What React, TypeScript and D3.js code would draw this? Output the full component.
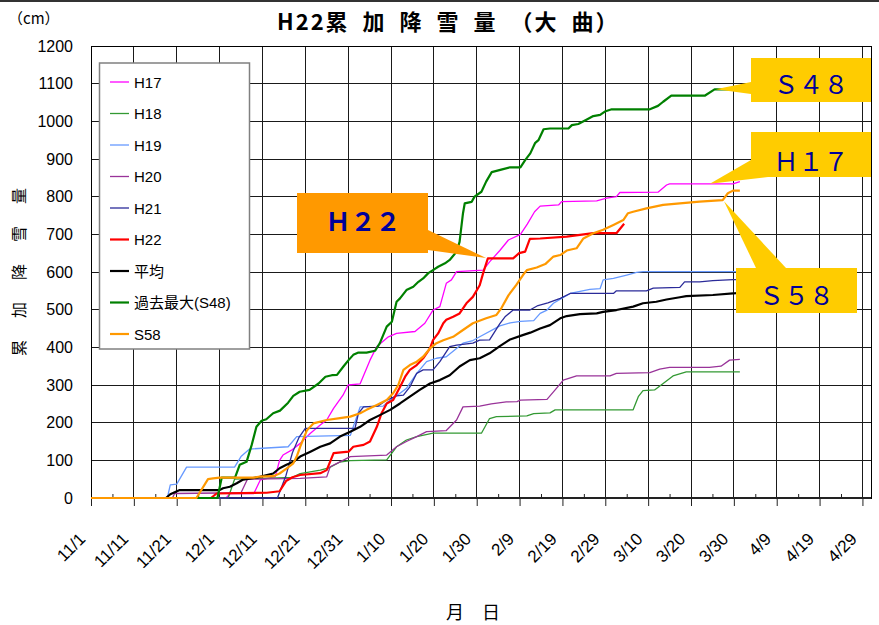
import React, { useRef, useEffect } from "react";
import * as d3 from "d3";

const width = 879;
const height = 625;

// day 0 = 11/1 (calendar with 2/29), values in cm
const tickDays = [0, 10, 20, 30, 40, 50, 60, 70, 80, 90, 100, 110, 120, 130, 140, 150, 160, 170, 180];
const tickLabels = ["11/1", "11/11", "11/21", "12/1", "12/11", "12/21", "12/31", "1/10", "1/20", "1/30", "2/9", "2/19", "2/29", "3/10", "3/20", "3/30", "4/9", "4/19", "4/29"];
const minorDays = [5, 15, 25, 35, 45, 55, 65, 75, 85, 95, 105, 115, 125, 135, 145, 155, 165, 175];
const yTicks = [0, 100, 200, 300, 400, 500, 600, 700, 800, 900, 1000, 1100, 1200];

const h17 = [[0,0],[31.5,0],[32.5,12],[38,12],[39.5,48],[43,57],[44,100],[44.8,114],[46.8,127],[48.8,145],[51.2,172],[53.5,194],[55,207],[56.6,238],[58.8,273],[60,300],[62.8,303],[65.1,366],[66.7,402],[69.4,428],[71.3,437],[75.6,442],[77.9,464],[79.8,499],[81.4,508],[82.9,570],[84.1,579],[85.3,601],[91.5,605],[93,627],[95.4,657],[97.4,685],[100.2,700],[101.8,727],[103.5,760],[104.8,775],[109.1,778],[109.8,787],[118,789],[120.3,796],[122.6,800],[123.4,811],[132.3,812],[134.3,831],[135,834],[149.8,834],[151.4,840]];
const h18 = [[0,0],[32,0],[33.5,50],[47,55],[48.8,65],[53.5,74],[55.5,80],[58,95],[60.5,99],[69,101],[71.3,136],[73.6,154],[76,163],[79.8,172],[91.1,172],[93,211],[94.6,216],[101.7,218],[103.3,224],[107.1,226],[108.3,234],[126.5,234],[127.7,269],[128.8,285],[131.5,287],[133.5,304],[135.8,324],[138.9,335],[151.4,335]];
const h19 = [[0,0],[17.8,0],[18.5,35],[20,37],[22.3,82],[33.5,82],[35,110],[37,130],[46,136],[48,163],[60.5,166],[62.8,242],[68.2,244],[69.8,260],[72.1,278],[73.6,291],[76,331],[78.3,362],[80.6,371],[82.9,375],[86.8,411],[89.1,418],[90.7,428],[95.4,457],[97.8,465],[100.2,469],[103.3,471],[104.8,490],[106.4,499],[107.9,517],[109.8,530],[111.8,543],[116.4,554],[118.8,556],[119.5,579],[121.9,583],[125,592],[127.3,599],[128.8,601],[151.4,601]];
const h20 = [[0,0],[19,0],[19.5,12],[35,14],[36.5,50],[48.8,52],[55,56],[55.8,83],[57.4,92],[60.5,110],[69,114],[71.3,136],[73.6,150],[76,163],[78.3,176],[82.9,179],[85.3,207],[86.8,242],[90.7,244],[93.4,250],[96.9,255],[99.4,256],[100.2,260],[106.4,262],[108.3,287],[110.2,313],[113.3,324],[121.1,324],[122.6,331],[130.4,333],[132.7,342],[135,347],[144.3,347],[147,350],[149,366],[151.4,368]];
const h21 = [[0,0],[43.5,0],[45.5,60],[47,120],[48.5,160],[50,185],[61.6,185],[62.4,225],[63.6,242],[67,244],[69,260],[71.3,271],[72.9,273],[74.4,295],[76,331],[77.5,340],[79.8,340],[81.4,362],[83.7,402],[85.3,406],[89.1,411],[90.7,419],[93,420],[95.4,463],[96.6,481],[98.5,499],[102.4,499],[104.3,511],[106.6,518],[109.5,530],[111.8,543],[121.9,543],[122.6,550],[129.6,550],[131.2,557],[137.4,559],[138.5,574],[142,574],[145.1,577],[149.8,580],[151.4,580]];
const h22 = [[0,0],[28,0],[29.3,12],[41,14],[44,18],[45.5,45],[47,55],[48.8,61],[53.5,66],[55,74],[56.6,119],[60.1,123],[61.2,136],[63.6,141],[65.1,150],[66.7,189],[67.8,225],[69,251],[70.5,260],[72.1,295],[73.3,322],[74.4,340],[76,353],[77.5,371],[79.1,397],[79.8,419],[81,437],[82.2,464],[82.9,473],[84.5,481],[86,490],[87.6,517],[89.1,534],[90.7,565],[91.5,597],[92.6,636],[98.5,636],[99.9,650],[101.3,654],[102.4,688],[104.8,689],[111,694],[117.2,703],[122.6,703],[124.4,728]];
const avg = [[0,0],[17.5,0],[18.5,10],[20.7,21],[30,21],[30.8,26],[32.4,30],[34,39],[35.5,49],[39.4,56],[42.5,65],[44,79],[45.6,88],[47.2,96],[48.8,110],[51.2,123],[53.5,136],[55.8,145],[58.1,163],[60.5,176],[62.8,189],[65.1,207],[67.4,220],[69.8,234],[72.1,251],[74.4,269],[76.7,287],[79.1,304],[81.4,313],[83.7,326],[86,349],[88.4,366],[90.7,371],[93,384],[95.4,403],[97.8,421],[100.9,433],[102.5,439],[104.8,450],[107.1,459],[109.5,477],[111,483],[114.1,488],[118,490],[119.5,494],[122.6,499],[126.5,508],[128.8,517],[131.9,521],[134.3,527],[137.4,533],[138.9,536],[145.1,539],[149.8,543],[150.5,544]];
const s48 = [[0,0],[29.5,0],[30.5,54],[33.6,54],[34.7,88],[36.3,96],[37.5,141],[38.6,189],[39.8,205],[40.9,209],[42.5,225],[44.1,232],[46,253],[47.2,271],[48.7,282],[51,287],[53.1,304],[54.7,322],[56.2,326],[57.4,327],[58.9,349],[60.1,366],[61.2,380],[62.4,386],[64.3,386],[66.3,391],[67.4,411],[69,455],[70.2,468],[71.3,521],[72.1,530],[73.6,552],[75.2,561],[76.4,574],[77.5,583],[78.7,597],[79.8,605],[81,614],[82.6,623],[83.7,632],[85.3,654],[86,680],[86.8,756],[87.2,782],[88.8,786],[89.5,800],[91.1,813],[92.2,840],[93.5,865],[95.5,871],[97.8,878],[100.2,878],[101.3,897],[102.5,915],[103.6,942],[104.4,950],[105.6,979],[107.1,981],[111.4,981],[112.2,990],[113.7,993],[115.7,1005],[117.2,1014],[118.8,1017],[119.9,1026],[121.5,1032],[130.4,1032],[132.3,1041],[133.5,1052],[135.4,1068],[143.2,1068],[145.5,1085],[151,1085]];
const s58 = [[0,0],[24.6,0],[27.3,50],[28.5,52],[30,54],[38,54],[39.4,57],[42.5,58],[44,65],[45.6,78],[47.2,92],[48,110],[48.8,136],[50.4,180],[51.9,198],[55,207],[58.1,212],[60.5,216],[62.8,225],[64.3,234],[66.7,247],[69,260],[70.5,278],[71.7,300],[72.9,340],[74.4,353],[76,362],[77.5,375],[79.1,397],[80.6,411],[82.2,419],[84.5,428],[86.8,446],[89.1,464],[92.2,477],[94.6,486],[95.8,505],[97.4,538],[99.2,565],[100.8,592],[101.7,605],[104,612],[106,621],[107.9,641],[109.5,645],[111,657],[113.3,663],[114.9,689],[117.2,703],[119.5,712],[121.9,725],[124.2,738],[125.3,756],[126.5,760],[129.6,769],[133.5,778],[137.4,782],[142,787],[147.4,791],[148.6,809],[149.8,816],[151.4,816]];

const seriesNames = ["H17", "H18", "H19", "H20", "H21", "H22", "平均", "過去最大(S48)", "S58"];
const seriesData = [h17, h18, h19, h20, h21, h22, avg, s48, s58];
const colors = ["#ff00ff", "#339933", "#6699ff", "#993399", "#2b2b99", "#ff0000", "#000000", "#008000", "#ff9900"];
const widths = [1.3, 1.3, 1.3, 1.3, 1.3, 2.2, 2.2, 2.2, 2.2];

const jp = "'Noto Sans CJK JP', sans-serif";
const num = "'Liberation Sans', Arial, 'Noto Sans CJK JP', sans-serif";

const App = () => {
  const ref = useRef<SVGSVGElement>(null);

  useEffect(() => {
    const svg = d3.select(ref.current);
    svg.selectAll("*").remove();

    const x = d3.scaleLinear().domain([0, 182]).range([91, 871]);
    const y = d3.scaleLinear().domain([0, 1200]).range([498, 46]);

    svg.append("rect").attr("width", width).attr("height", height).attr("fill", "#fff");
    svg.append("line").attr("x1", 0).attr("x2", width).attr("y1", 1).attr("y2", 1)
      .attr("stroke", "#333").attr("stroke-width", 2);

    // grid
    const grid = svg.append("g").attr("stroke", "#1a1a1a").attr("shape-rendering", "crispEdges");
    grid.selectAll("line.v").data(tickDays.slice(1)).join("line").attr("class", "v")
      .attr("x1", (d) => x(d)).attr("x2", (d) => x(d)).attr("y1", y(1200)).attr("y2", y(0));
    grid.selectAll("line.h").data(yTicks.slice(1)).join("line").attr("class", "h")
      .attr("x1", x(0)).attr("x2", x(182)).attr("y1", (d) => y(d)).attr("y2", (d) => y(d));

    // frame
    svg.append("rect").attr("x", x(0)).attr("y", y(1200))
      .attr("width", x(182) - x(0)).attr("height", y(0) - y(1200))
      .attr("fill", "none").attr("stroke", "#000").attr("shape-rendering", "crispEdges");
    svg.append("line").attr("x1", x(0)).attr("x2", x(182)).attr("y1", y(0)).attr("y2", y(0))
      .attr("stroke", "#222").attr("stroke-width", 2);

    // y axis labels
    const yAxis = svg.append("g").attr("transform", `translate(${x(0)},0)`)
      .call(d3.axisLeft(y).tickValues(yTicks).tickSize(0).tickPadding(18).tickFormat(d3.format("d")));
    yAxis.select(".domain").remove();
    yAxis.selectAll("text").attr("font-family", num).attr("font-size", 16).attr("fill", "#000");

    // x axis
    const xAxis = svg.append("g").attr("transform", `translate(0,${y(0)})`)
      .call(d3.axisBottom(x).tickValues(tickDays).tickSize(8)
        .tickFormat((d, i) => tickLabels[i]));
    xAxis.select(".domain").remove();
    xAxis.selectAll("line").attr("stroke", "#222");
    xAxis.selectAll("text")
      .attr("font-family", num).attr("font-size", 17).attr("fill", "#000")
      .attr("y", 0).attr("dy", 0).attr("text-anchor", "end")
      .attr("transform", "translate(-5,42) rotate(-45)");
    const minor = svg.append("g").attr("transform", `translate(0,${y(0)})`)
      .call(d3.axisBottom(x).tickValues(minorDays).tickSize(-4).tickFormat(() => ""));
    minor.select(".domain").remove();
    minor.selectAll("line").attr("stroke", "#222");

    // series
    const line = d3.line<number[]>().x((d) => x(d[0])).y((d) => y(d[1]));
    svg.append("g").selectAll("path").data(seriesData).join("path")
      .attr("d", (d) => line(d))
      .attr("fill", "none")
      .attr("stroke", (d, i) => colors[i])
      .attr("stroke-width", (d, i) => widths[i])
      .attr("stroke-linejoin", "round");

    // legend
    const legend = svg.append("g");
    legend.append("rect").attr("x", 99.5).attr("y", 63).attr("width", 150).attr("height", 286)
      .attr("fill", "#fff").attr("stroke", "#808080").attr("stroke-width", 1.5);
    const item = legend.selectAll("g.item").data(seriesNames).join("g").attr("class", "item")
      .attr("transform", (d, i) => `translate(0,${82 + i * 31.5})`);
    item.append("line").attr("x1", 110).attr("x2", 129)
      .attr("stroke", (d, i) => colors[i]).attr("stroke-width", (d, i) => widths[i]);
    item.append("text").attr("x", 134).attr("y", 5.5)
      .attr("font-family", num).attr("font-size", 15).text((d) => d);

    // callouts
    const callouts = [
      { label: "Ｓ４８", fill: "#ffcc00", box: [751, 58, 120, 44], tip: [145.8, 1085], base: [[751, 82], [751, 94]], tx: 811, ty: 94, bold: false },
      { label: "Ｈ１７", fill: "#ffcc00", box: [751, 132, 120, 45], tip: [144.4, 834], base: [[751, 160], [768, 177]], tx: 811, ty: 171, bold: false },
      { label: "Ｓ５８", fill: "#ffcc00", box: [736, 268, 121, 45], tip: [147.7, 788], base: [[756, 268], [786, 268]], tx: 796.5, ty: 305, bold: false },
      { label: "Ｈ２２", fill: "#ff9900", box: [297, 193, 131, 60], tip: [92.2, 637], base: [[428, 230], [428, 250]], tx: 363, ty: 231, bold: true },
    ];
    const co = svg.append("g").selectAll("g").data(callouts).join("g");
    co.append("polygon")
      .attr("points", (d) => [d.base[0], [x(d.tip[0]), y(d.tip[1])], d.base[1]].map((p) => p.join(",")).join(" "))
      .attr("fill", (d) => d.fill);
    co.append("rect").attr("x", (d) => d.box[0]).attr("y", (d) => d.box[1])
      .attr("width", (d) => d.box[2]).attr("height", (d) => d.box[3]).attr("fill", (d) => d.fill);
    co.append("text").attr("x", (d) => d.tx).attr("y", (d) => d.ty)
      .attr("text-anchor", "middle").attr("font-family", jp).attr("font-size", 25)
      .attr("font-weight", (d) => (d.bold ? "bold" : "normal"))
      .attr("fill", "#000099").text((d) => d.label);

    // titles
    svg.append("text").attr("x", 277).attr("y", 30)
      .attr("font-family", jp).attr("font-size", 22).attr("font-weight", "bold")
      .attr("letter-spacing", 2)
      .text("H22累\u2002加\u2002降\u2002雪\u2002量\u2002（大\u2002曲）");
    svg.append("text").attr("x", 8).attr("y", 24)
      .attr("font-family", jp).attr("font-size", 15).text("（cm）");
    svg.append("g").selectAll("text").data(["累", "加", "降", "雪", "量"]).join("text")
      .attr("transform", (d, i) => `translate(18,${348 - i * 38}) rotate(-90)`)
      .attr("text-anchor", "middle").attr("dominant-baseline", "central")
      .attr("font-family", jp).attr("font-size", 16).text((d) => d);
    svg.append("text").attr("x", 473).attr("y", 619).attr("text-anchor", "middle")
      .attr("font-family", jp).attr("font-size", 18).text("月　日");
  }, []);

  return (
    <svg ref={ref} width={width} height={height}
      style={{ position: "absolute", left: 0, top: 0, display: "block" }} />
  );
};

export default App;
